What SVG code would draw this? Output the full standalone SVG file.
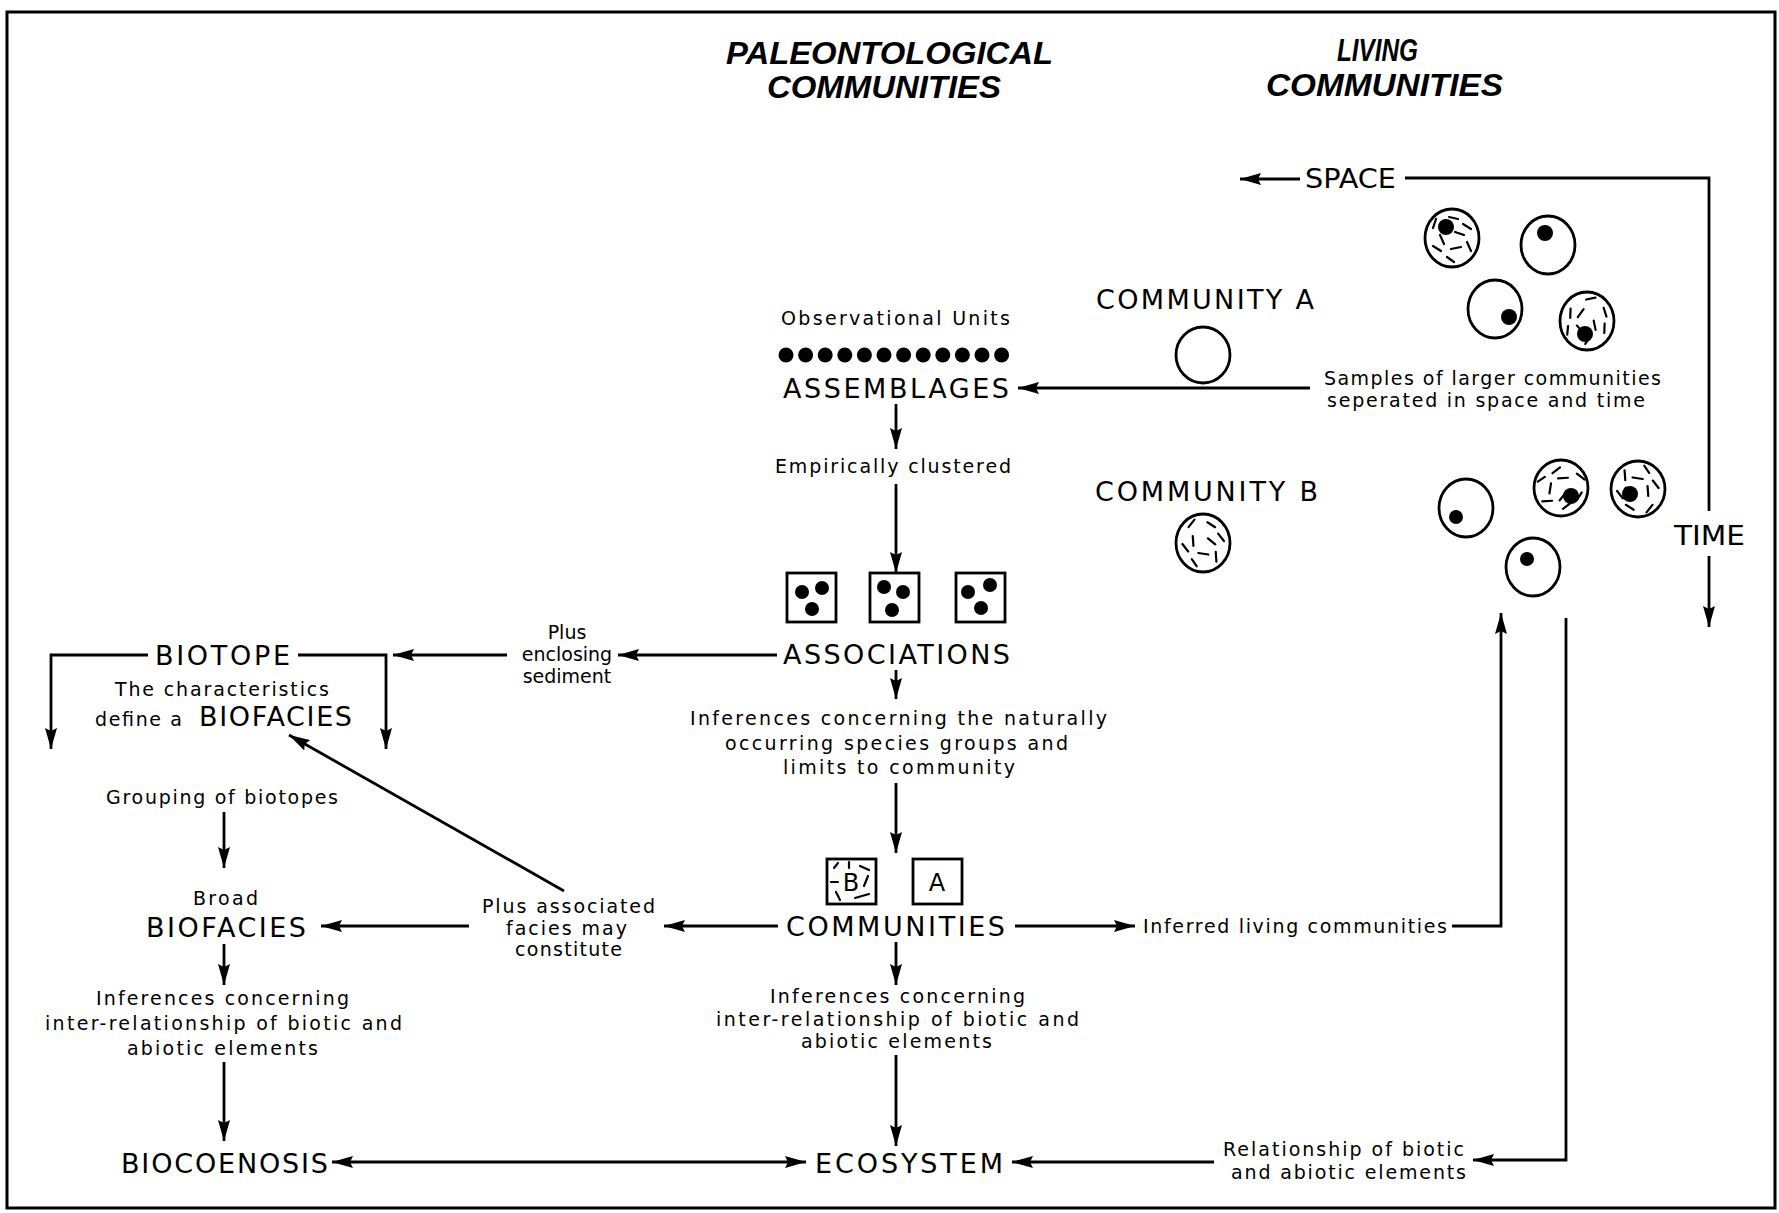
<svg xmlns="http://www.w3.org/2000/svg" xmlns:xlink="http://www.w3.org/1999/xlink" width="1779" height="1213" viewBox="0 0 1779 1213">
<style>
text{font-family:"DejaVu Sans","Liberation Sans",sans-serif;fill:#000}
.t{font-family:"Liberation Sans",Arial,sans-serif;font-size:31px;font-style:italic;font-weight:bold}
.L{font-size:27px}
.s{font-size:19px}
.ln{fill:none;stroke:#000;stroke-width:2.8}
.c{fill:#fff;stroke:#000;stroke-width:2.8}
.h{fill:none;stroke:#000;stroke-width:2.2;stroke-linecap:round}
.box{fill:#fff;stroke:#000;stroke-width:2.8}
</style>
<defs>
<marker id="ah" markerWidth="21" markerHeight="12" refX="21" refY="6" orient="auto-start-reverse" markerUnits="userSpaceOnUse"><path d="M0,0 L21,6 L0,12 L3,6 z" fill="#000"/></marker>
<g id="hatch" class="h">
<path d="M-19,-10 L-16,-19 M-3,-21 L6,-19 M11,-14 L19,-9 M-12,-3 L-8,6 M3,-6 L12,-3 M-19,8 L-11,13 M-1,11 L9,9 M15,4 L19,13 M-5,19 L2,24"/>
</g>
</defs>
<rect x="7" y="12" width="1768" height="1196" fill="none" stroke="#000" stroke-width="3"/>

<g id="titles">
<text class="t" x="726" y="64" textLength="327" lengthAdjust="spacingAndGlyphs">PALEONTOLOGICAL</text>
<text class="t" x="767" y="98" textLength="234" lengthAdjust="spacingAndGlyphs">COMMUNITIES</text>
<text class="t" x="1337" y="61" textLength="81" lengthAdjust="spacingAndGlyphs">LIVING</text>
<text class="t" x="1266" y="96" textLength="237" lengthAdjust="spacingAndGlyphs">COMMUNITIES</text>
</g>

<g id="connectors">
<path class="ln" d="M1300,179 H1240" marker-end="url(#ah)"/>
<path class="ln" d="M1405,178 H1709 V511"/>
<path class="ln" d="M1709,556 V627" marker-end="url(#ah)"/>
<path class="ln" d="M1310,388 H1018" marker-end="url(#ah)"/>
<path class="ln" d="M896,404 V449" marker-end="url(#ah)"/>
<path class="ln" d="M896,484 V573" marker-end="url(#ah)"/>
<path class="ln" d="M777,655 H618" marker-end="url(#ah)"/>
<path class="ln" d="M507,655 H393" marker-end="url(#ah)"/>
<path class="ln" d="M148,655 H51 V749" marker-end="url(#ah)"/>
<path class="ln" d="M298,655 H386 V749" marker-end="url(#ah)"/>
<path class="ln" d="M896,670 V699" marker-end="url(#ah)"/>
<path class="ln" d="M896,783 V853" marker-end="url(#ah)"/>
<path class="ln" d="M778,926 H664" marker-end="url(#ah)"/>
<path class="ln" d="M469,926 H321" marker-end="url(#ah)"/>
<path class="ln" d="M564,891 L289,735" marker-end="url(#ah)"/>
<path class="ln" d="M224,812 V868" marker-end="url(#ah)"/>
<path class="ln" d="M224,944 V985" marker-end="url(#ah)"/>
<path class="ln" d="M224,1062 V1141" marker-end="url(#ah)"/>
<path class="ln" d="M332,1162 H806" marker-start="url(#ah)" marker-end="url(#ah)"/>
<path class="ln" d="M1015,926 H1135" marker-end="url(#ah)"/>
<path class="ln" d="M1452,926 H1501 V613" marker-end="url(#ah)"/>
<path class="ln" d="M1566,618 V1160 H1473" marker-end="url(#ah)"/>
<path class="ln" d="M1214,1162 H1012" marker-end="url(#ah)"/>
<path class="ln" d="M896,942 V985" marker-end="url(#ah)"/>
<path class="ln" d="M896,1055 V1146" marker-end="url(#ah)"/>
</g>

<g id="space">
<text class="L" x="1305" y="188" textLength="91" lengthAdjust="spacingAndGlyphs">SPACE</text>
</g>
<g id="time">
<text class="L" x="1674" y="545" textLength="71" lengthAdjust="spacingAndGlyphs">TIME</text>
</g>

<g id="communityA">
<text class="L" x="1096" y="309" textLength="218" lengthAdjust="spacing">COMMUNITY A</text>
<ellipse class="c" cx="1203" cy="355" rx="27" ry="28"/>
</g>
<g id="communityB">
<text class="L" x="1095" y="501" textLength="223" lengthAdjust="spacing">COMMUNITY B</text>
<ellipse class="c" cx="1203" cy="543" rx="27" ry="29"/>
<use xlink:href="#hatch" transform="translate(1203,543) rotate(20)"/>
</g>

<g id="samplesA">
<ellipse class="c" cx="1452" cy="238" rx="27" ry="29"/>
<use xlink:href="#hatch" transform="translate(1452,238)"/>
<circle cx="1446" cy="227" r="8"/>
<ellipse class="c" cx="1548" cy="245" rx="27" ry="29"/>
<circle cx="1545" cy="233" r="8"/>
<ellipse class="c" cx="1495" cy="309" rx="27" ry="29"/>
<circle cx="1509" cy="317" r="8"/>
<ellipse class="c" cx="1587" cy="321" rx="27" ry="29"/>
<use xlink:href="#hatch" transform="translate(1587,321) rotate(60)"/>
<circle cx="1585" cy="334" r="8"/>
</g>
<g id="samplesB">
<ellipse class="c" cx="1466" cy="508" rx="27" ry="29"/>
<circle cx="1456" cy="517" r="7"/>
<ellipse class="c" cx="1561" cy="488" rx="27" ry="28"/>
<use xlink:href="#hatch" transform="translate(1561,488) rotate(110)"/>
<circle cx="1571" cy="496" r="8"/>
<ellipse class="c" cx="1638" cy="489" rx="27" ry="28"/>
<use xlink:href="#hatch" transform="translate(1638,489) rotate(200)"/>
<circle cx="1630" cy="494" r="8"/>
<ellipse class="c" cx="1533" cy="567" rx="27" ry="29"/>
<circle cx="1527" cy="559" r="7"/>
</g>

<g id="samplesText">
<text class="s" x="1324" y="385" textLength="337" lengthAdjust="spacing">Samples of larger communities</text>
<text class="s" x="1327" y="407" textLength="318" lengthAdjust="spacing">seperated in space and time</text>
</g>

<g id="assemblages">
<text class="s" x="781" y="325" textLength="229" lengthAdjust="spacing">Observational Units</text>
<g fill="#000">
<circle cx="786" cy="355" r="7.5"/><circle cx="805.6" cy="355" r="7.5"/><circle cx="825.2" cy="355" r="7.5"/><circle cx="844.8" cy="355" r="7.5"/><circle cx="864.4" cy="355" r="7.5"/><circle cx="884" cy="355" r="7.5"/><circle cx="903.6" cy="355" r="7.5"/><circle cx="923.2" cy="355" r="7.5"/><circle cx="942.8" cy="355" r="7.5"/><circle cx="962.4" cy="355" r="7.5"/><circle cx="982" cy="355" r="7.5"/><circle cx="1001.6" cy="355" r="7.5"/>
</g>
<text class="L" x="783" y="398" textLength="226" lengthAdjust="spacing">ASSEMBLAGES</text>
</g>

<g id="empirically">
<text class="s" x="775" y="473" textLength="236" lengthAdjust="spacing">Empirically clustered</text>
</g>

<g id="associations">
<rect class="box" x="787" y="573" width="49" height="49"/>
<circle cx="802" cy="592" r="7"/><circle cx="822" cy="588" r="7"/><circle cx="812" cy="609" r="7"/>
<rect class="box" x="870" y="573" width="49" height="49"/>
<circle cx="884" cy="587" r="7"/><circle cx="903" cy="592" r="7"/><circle cx="892" cy="610" r="7"/>
<rect class="box" x="956" y="573" width="49" height="49"/>
<circle cx="968" cy="592" r="7"/><circle cx="990" cy="585" r="7"/><circle cx="981" cy="608" r="7"/>
<text class="L" x="783" y="664" textLength="227" lengthAdjust="spacing">ASSOCIATIONS</text>
</g>

<g id="enclosing">
<text class="s" x="567" y="639" text-anchor="middle">Plus</text>
<text class="s" x="567" y="661" text-anchor="middle">enclosing</text>
<text class="s" x="567" y="683" text-anchor="middle">sediment</text>
</g>

<g id="biotope">
<text class="L" x="155" y="665" textLength="135" lengthAdjust="spacing">BIOTOPE</text>
<text class="s" x="115" y="696" textLength="214" lengthAdjust="spacing">The characteristics</text>
<text class="s" x="95" y="726" textLength="87" lengthAdjust="spacing">define a</text>
<text class="L" x="199" y="726" textLength="153" lengthAdjust="spacing">BIOFACIES</text>
</g>

<g id="inferences1">
<text class="s" x="690" y="725" textLength="417" lengthAdjust="spacing">Inferences concerning the naturally</text>
<text class="s" x="725" y="750" textLength="343" lengthAdjust="spacing">occurring species groups and</text>
<text class="s" x="783" y="774" textLength="232" lengthAdjust="spacing">limits to community</text>
</g>

<g id="communities">
<rect class="box" x="827" y="859" width="49" height="45"/>
<path class="h" d="M834,868 L838,863 M849,862 L849,868 M860,866 L869,870 M831,882 L838,882 M868,876 L864,886 M836,892 L840,900 M855,898 L869,894"/>
<text class="s" x="851" y="891" text-anchor="middle" style="font-size:24px">B</text>
<rect class="box" x="913" y="859" width="49" height="45"/>
<text class="s" x="937" y="891" text-anchor="middle" style="font-size:24px">A</text>
<text class="L" x="786" y="936" textLength="219" lengthAdjust="spacing">COMMUNITIES</text>
</g>

<g id="associated">
<text class="s" x="482" y="913" textLength="173" lengthAdjust="spacing">Plus associated</text>
<text class="s" x="506" y="935" textLength="121" lengthAdjust="spacing">facies may</text>
<text class="s" x="515" y="956" textLength="107" lengthAdjust="spacing">constitute</text>
</g>

<g id="grouping">
<text class="s" x="106" y="804" textLength="232" lengthAdjust="spacing">Grouping of biotopes</text>
</g>

<g id="broadBiofacies">
<text class="s" x="193" y="905" textLength="65" lengthAdjust="spacing">Broad</text>
<text class="L" x="146" y="937" textLength="160" lengthAdjust="spacing">BIOFACIES</text>
</g>

<g id="inferencesLeft">
<text class="s" x="96" y="1005" textLength="253" lengthAdjust="spacing">Inferences concerning</text>
<text class="s" x="45" y="1030" textLength="357" lengthAdjust="spacing">inter-relationship of biotic and</text>
<text class="s" x="127" y="1055" textLength="191" lengthAdjust="spacing">abiotic elements</text>
</g>

<g id="inferencesCenter">
<text class="s" x="770" y="1003" textLength="255" lengthAdjust="spacing">Inferences concerning</text>
<text class="s" x="716" y="1026" textLength="363" lengthAdjust="spacing">inter-relationship of biotic and</text>
<text class="s" x="801" y="1048" textLength="191" lengthAdjust="spacing">abiotic elements</text>
</g>

<g id="inferred">
<text class="s" x="1143" y="933" textLength="304" lengthAdjust="spacing">Inferred living communities</text>
</g>

<g id="biocoenosis">
<text class="L" x="121" y="1173" textLength="207" lengthAdjust="spacing">BIOCOENOSIS</text>
</g>
<g id="ecosystem">
<text class="L" x="815" y="1173" textLength="188" lengthAdjust="spacing">ECOSYSTEM</text>
</g>
<g id="relationship">
<text class="s" x="1223" y="1156" textLength="241" lengthAdjust="spacing">Relationship of biotic</text>
<text class="s" x="1231" y="1179" textLength="235" lengthAdjust="spacing">and abiotic elements</text>
</g>
</svg>
